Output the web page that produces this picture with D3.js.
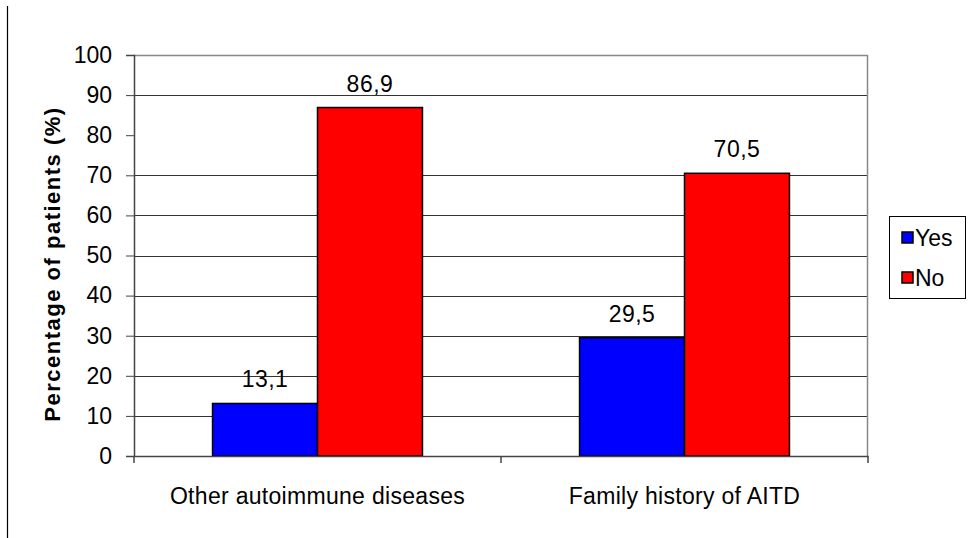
<!DOCTYPE html>
<html>
<head>
<meta charset="utf-8">
<script src="https://cdn.jsdelivr.net/npm/d3@7"></script>
<style>
  body { margin: 0; background: #fff; }
  svg { display: block; font-family: "Liberation Sans", Arial, sans-serif; }
</style>
</head>
<body>
<div id="chart"></div>
<script>
const categories = ['Other autoimmune diseases', 'Family history of AITD'];
const series = ['Yes', 'No'];
const yesValues = [13.1, 29.5];
const noValues = [86.9, 70.5];
const yTicks = [0, 10, 20, 30, 40, 50, 60, 70, 80, 90, 100];
const valueLabels = { Yes: ['13,1', '29,5'], No: ['86,9', '70,5'] };

const W = 968, H = 538;
const margin = { top: 55, right: 100, bottom: 82, left: 134 };
const width = W - margin.left - margin.right;
const height = H - margin.top - margin.bottom;
const FONT = '"Liberation Sans", Arial, sans-serif';

const colors = d3.scaleOrdinal().domain(series).range(['#0000ff', '#ff0000']);

const svg = d3.select('#chart').append('svg')
    .attr('width', W)
    .attr('height', H);

// thin frame line at far left
svg.append('line')
    .attr('x1', 7.5).attr('x2', 7.5)
    .attr('y1', 6).attr('y2', H)
    .attr('stroke', '#000').attr('stroke-width', 1.2);

const g = svg.append('g')
    .attr('transform', `translate(${margin.left},${margin.top})`);

const x0 = d3.scaleBand().domain(categories).range([0, width]);
const groupW = x0.bandwidth() * 0.572;
const x1 = d3.scaleBand().domain(series)
    .range([(x0.bandwidth() - groupW) / 2, (x0.bandwidth() + groupW) / 2]);
const y = d3.scaleLinear().domain([0, 100]).range([height, 0]);

// gridlines (the 80 line is not visible in the original)
g.append('g')
    .selectAll('line')
    .data(yTicks.filter(t => t !== 0 && t !== 100 && t !== 80))
    .join('line')
    .attr('x1', 0).attr('x2', width)
    .attr('y1', d => Math.round(y(d)) + 0.5)
    .attr('y2', d => Math.round(y(d)) + 0.5)
    .attr('stroke', '#333').attr('stroke-width', 1);

// top and right frame
g.append('path')
    .attr('d', `M0,${y(100) + 0.5}H${width - 0.5}V${height}`)
    .attr('fill', 'none')
    .attr('stroke', '#888').attr('stroke-width', 1.5);

// bars
const rows = categories.map((c, i) => ({ cat: c, Yes: yesValues[i], No: noValues[i], i }));
const groups = g.selectAll('.grp')
    .data(rows)
    .join('g')
    .attr('transform', d => `translate(${x0(d.cat)},0)`);

groups.selectAll('rect')
    .data(d => series.map(s => ({ key: s, value: d[s], i: d.i })))
    .join('rect')
    .attr('x', d => x1(d.key))
    .attr('y', d => y(d.value))
    .attr('width', x1.bandwidth())
    .attr('height', d => height - y(d.value))
    .attr('fill', d => colors(d.key))
    .attr('stroke', '#000').attr('stroke-width', 1.5);

groups.selectAll('text')
    .data(d => series.map(s => ({ key: s, value: d[s], i: d.i })))
    .join('text')
    .attr('x', d => x1(d.key) + x1.bandwidth() / 2)
    .attr('y', d => y(d.value) - 16)
    .attr('text-anchor', 'middle')
    .attr('font-size', '23px')
    .attr('letter-spacing', '0.5px')
    .attr('fill', '#000')
    .text(d => valueLabels[d.key][d.i]);

// y axis
const yAxis = g.append('g')
    .call(d3.axisLeft(y).tickValues(yTicks).tickSize(8).tickPadding(14));
yAxis.select('.domain').attr('stroke', '#444').attr('stroke-width', 1.5);
yAxis.selectAll('.tick line').attr('stroke', '#444');
yAxis.selectAll('.tick text').attr('font-size', '23px').attr('fill', '#000')
    .attr('font-family', FONT);

// x axis
const xAxis = g.append('g')
    .attr('transform', `translate(0,${height})`)
    .call(d3.axisBottom(x0).tickSize(0).tickPadding(32));
xAxis.select('.domain').attr('stroke', '#444').attr('stroke-width', 1.5);
xAxis.selectAll('.tick text').attr('font-size', '23px').attr('fill', '#000')
    .attr('letter-spacing', '0.3px')
    .attr('font-family', FONT);
// category separator ticks
xAxis.append('g')
    .selectAll('line')
    .data([0, x0.bandwidth(), width])
    .join('line')
    .attr('x1', d => d).attr('x2', d => d)
    .attr('y1', 0).attr('y2', 7)
    .attr('stroke', '#444').attr('stroke-width', 1.5);

// y axis title
svg.append('text')
    .attr('transform', `translate(60,264) rotate(-90)`)
    .attr('text-anchor', 'middle')
    .attr('font-size', '22px')
    .attr('font-weight', 'bold')
    .attr('letter-spacing', '1.5px')
    .attr('fill', '#000')
    .text('Percentage of patients (%)');

// legend
const legend = svg.append('g').attr('transform', 'translate(889,216)');
legend.append('rect')
    .attr('x', 0.5).attr('y', 0.5)
    .attr('width', 76).attr('height', 82)
    .attr('fill', '#fff').attr('stroke', '#000').attr('stroke-width', 1);
const items = legend.selectAll('.item')
    .data(series)
    .join('g')
    .attr('transform', (d, i) => `translate(13,${16 + i * 40})`);
items.append('rect')
    .attr('width', 11).attr('height', 11)
    .attr('fill', d => colors(d))
    .attr('stroke', '#000').attr('stroke-width', 1.5);
items.append('text')
    .attr('x', 13).attr('y', 6)
    .attr('dy', '0.36em')
    .attr('font-size', '23px')
    .attr('fill', '#000')
    .text(d => d);
</script>
</body>
</html>
